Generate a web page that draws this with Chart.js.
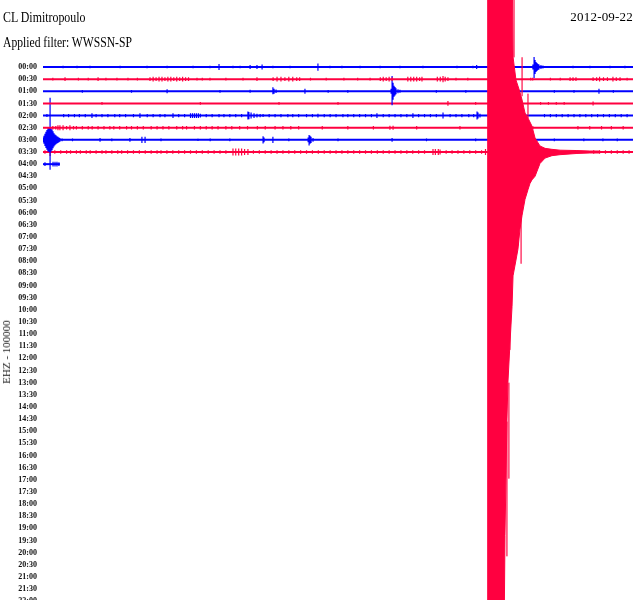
<!DOCTYPE html>
<html>
<head>
<title>CL Dimitropoulo helicorder 2012-09-22</title>
<script src="https://cdn.jsdelivr.net/npm/chart.js"></script>
<style>
    body { margin: 0; background: #fff; }
    #wrap { position: relative; width: 640px; height: 600px; overflow: hidden; }
    .txt { position: absolute; font-family: "Liberation Serif", serif; color: #000; white-space: nowrap; font-size: 14px; line-height: 14px; }
    #station { left: 3px; top: 11px; transform: scaleX(0.85); transform-origin: 0 0; }
    #filter { left: 3px; top: 36px; transform: scaleX(0.83); transform-origin: 0 0; }
    #date { right: 7px; top: 10px; font-size: 13px; letter-spacing: 0.2px; }
    #chan { left: 6px; top: 352px; font-size: 11px; color: #222; transform: translate(-50%, -50%) rotate(-90deg); }
</style>
</head>
<body>
<div id="wrap">
    <canvas id="heli"></canvas>
    <div class="txt" id="station">CL Dimitropoulo</div>
    <div class="txt" id="filter">Applied filter: WWSSN-SP</div>
    <div class="txt" id="date">2012-09-22</div>
    <div class="txt" id="chan">EHZ - 100000</div>
</div>

<script>
// one row = 30 minutes, x in minutes inside the row, amplitudes in row heights
var rowLabels = ['00:00','00:30','01:00','01:30','02:00','02:30','03:00','03:30','04:00','04:30',
    '05:00','05:30','06:00','06:30','07:00','07:30','08:00','08:30','09:00','09:30',
    '10:00','10:30','11:00','11:30','12:00','12:30','13:00','13:30','14:00','14:30',
    '15:00','15:30','16:00','16:30','17:00','17:30','18:00','18:30','19:00','19:30',
    '20:00','20:30','21:00','21:30','22:00'];
var rowEnd = [30, 30, 30, 30, 30, 30, 30, 30, 0.86];

// [minute, up, down]
var events0 = [[8.95,0.25,0.25],[10.53,0.16,0.16],[10.88,0.16,0.16],[11.14,0.2,0.2],[13.98,0.3,0.3],[22.05,0.16,0.16],
    [24.91,0.2,0.2],[24.97,0.82,0.91],[25.02,0.58,0.58],[25.07,0.41,0.41],[25.12,0.33,0.33],[25.17,0.25,0.25],
    [25.22,0.2,0.2],[25.32,0.16,0.16],[25.42,0.12,0.12]];
var events1 = [[1.12,0.16,0.16],[2.8,0.16,0.16],[3.76,0.12,0.12],[4.32,0.12,0.12],[5.44,0.16,0.16],[5.6,0.2,0.2],
    [5.75,0.16,0.16],[5.9,0.2,0.2],[6.05,0.2,0.2],[6.2,0.16,0.16],[6.35,0.2,0.2],[6.5,0.2,0.2],[6.65,0.16,0.16],
    [6.8,0.2,0.2],[6.95,0.16,0.16],[7.1,0.2,0.2],[7.25,0.16,0.16],[7.4,0.16,0.16],[10.88,0.16,0.16],[11.7,0.16,0.16],
    [11.9,0.2,0.2],[12.1,0.2,0.2],[12.3,0.16,0.16],[12.5,0.2,0.2],[12.7,0.2,0.2],[12.9,0.16,0.16],[13.05,0.16,0.16],
    [16.63,0.12,0.12],[17.15,0.16,0.16],[17.3,0.2,0.2],[17.45,0.16,0.16],[17.6,0.2,0.2],[17.75,0.16,0.16],
    [18.55,0.2,0.2],[18.7,0.2,0.2],[18.85,0.2,0.2],[19.0,0.2,0.2],[19.15,0.16,0.16],[19.27,0.2,0.2],
    [20.05,0.2,0.2],[20.2,0.2,0.2],[20.34,0.25,0.25],[20.45,0.2,0.2],[20.59,0.16,0.16],[24.8,0.12,0.12],
    [24.9,0.12,0.12],[26.8,0.16,0.16],[26.95,0.16,0.16],[27.1,0.16,0.16],[27.97,0.16,0.16],[28.15,0.16,0.16],
    [28.3,0.2,0.2],[28.5,0.16,0.16],[28.7,0.16,0.16],[28.98,0.2,0.2],[29.15,0.16,0.16],[29.34,0.16,0.16]];
var events2 = [[6.31,0.16,0.16],[10.53,0.12,0.12],[11.69,0.33,0.25],[11.75,0.2,0.2],[11.85,0.14,0.14],[13.32,0.2,0.2],
    [17.7,0.2,0.2],[17.75,1.26,1.15],[17.8,0.7,0.7],[17.85,0.45,0.45],[17.9,0.35,0.35],[17.95,0.25,0.25],
    [18.05,0.16,0.16],[18.15,0.12,0.12],[28.27,0.2,0.2]];
var events3 = [[20.59,0.2,0.2],[27.97,0.16,0.16]];
var events4 = [[0.2,0.12,0.12],[2.49,0.2,0.2],[4.93,0.2,0.2],[6.61,0.2,0.2],[7.5,0.2,0.2],[7.6,0.2,0.2],[7.7,0.2,0.2],
    [7.8,0.2,0.2],[7.9,0.2,0.2],[8.0,0.16,0.16],[10.42,0.33,0.33],[10.47,0.3,0.3],[10.58,0.25,0.25],[10.73,0.2,0.2],
    [10.88,0.16,0.16],[11.04,0.14,0.14],[11.19,0.12,0.12],[13.98,0.16,0.16],[16.98,0.2,0.2],[18.81,0.2,0.2],
    [20.34,0.25,0.25],[22.07,0.33,0.33],[22.12,0.25,0.25],[22.22,0.16,0.16]];
var events5 = [[0.76,0.2,0.2],[0.86,0.2,0.2],[1.02,0.2,0.2],[1.37,0.2,0.2],[17.64,0.16,0.16],[17.8,0.16,0.16],[24.91,0.12,0.12]];
var events6 = [[0.0,0.2,0.2],[0.05,0.33,0.33],[0.1,0.5,0.5],[0.15,0.66,0.66],[0.2,0.82,0.82],[0.25,0.95,0.95],
    [0.31,1.0,1.0],[0.36,3.46,2.47],[0.41,0.95,0.95],[0.46,0.85,0.85],[0.51,0.7,0.7],[0.56,0.55,0.55],[0.61,0.45,0.45],
    [0.66,0.37,0.37],[0.71,0.3,0.3],[0.76,0.25,0.25],[0.81,0.2,0.2],[0.86,0.16,0.16],[0.97,0.12,0.12],
    [2.9,0.16,0.16],[4.42,0.16,0.16],[5.03,0.25,0.25],[5.19,0.25,0.25],[7.88,0.1,0.1],[11.19,0.29,0.29],
    [11.24,0.2,0.2],[11.69,0.25,0.25],[13.48,0.2,0.2],[13.53,0.41,0.47],[13.58,0.33,0.33],[13.63,0.25,0.25],
    [13.73,0.16,0.16],[17.75,0.16,0.16],[28.47,0.12,0.12]];
var events7 = [[0.36,0.33,0.33],[9.66,0.29,0.29],[9.8,0.29,0.29],[9.95,0.29,0.29],[10.1,0.29,0.29],[10.25,0.25,0.25],
    [10.42,0.25,0.25],[19.83,0.25,0.25],[19.95,0.25,0.25],[20.1,0.25,0.25],[20.19,0.2,0.2],[22.5,0.25,0.25]];
var events8 = [[0.1,0.16,0.16],[0.51,0.2,0.2],[0.61,0.2,0.2],[0.71,0.2,0.2],[0.81,0.16,0.16]];

// background noise speckle positions (minutes)
var noise0 = [1.02,1.73,2.39,3.92,5.29,6.31,7.63,8.49,9.66,10.02,11.69,12.56,14.59,15.2,16.12,17.14,18.15,19.32,21.05,21.86,26.95,27.81,28.83,29.59];
var noise1 = [0.5,1.8,2.3,3.2,4.8,7.83,8.1,8.49,9.3,10.17,13.6,14.4,15.3,16.0,21.0,21.6,25.8,26.3,29.7];
var noise2 = [2.0,4.5,9.0,14.5,15.5,20.0,21.5,26.0,27.0,29.0];
var noise3 = [3.0,8.0,12.0,15.0,22.0,25.3,25.7,26.1,26.5];
var noise4 = [1.05,1.3,1.6,1.85,2.15,2.7,3.0,3.3,3.65,3.9,4.2,4.6,5.3,5.6,5.95,6.2,6.9,7.2,8.3,8.6,8.95,9.2,9.5,9.8,10.1,
    11.5,11.8,12.1,12.45,12.7,13.0,13.4,13.7,14.3,14.6,14.9,15.25,15.5,15.8,16.1,16.4,16.7,17.3,17.6,17.9,18.2,18.5,
    19.1,19.4,19.7,20.0,20.7,21.0,21.3,21.65,21.9,25.5,25.8,26.1,26.4,26.7,27.0,27.3,27.6,27.9,28.2,28.5,28.8,29.1,29.4,29.7];
var noise5 = [0.5,0.65,1.2,1.55,1.7,2.0,2.3,2.5,2.8,3.1,3.4,3.6,3.9,4.25,4.5,4.8,5.1,5.5,5.8,6.1,6.4,6.8,7.1,7.3,7.7,
    8.0,8.3,8.6,8.9,9.3,9.6,10.0,10.4,10.9,11.3,11.8,12.2,12.6,13.0,14.2,15.5,16.8,19.0,21.2,27.2,27.8,28.4,28.9,29.5];
var noise6 = [1.5,3.5,6.0,8.5,9.5,12.5,15.0,19.5,22.0,26.0,27.5,29.2];
var noise7 = [0.1,0.6,0.9,1.2,1.4,1.7,1.9,2.2,2.4,2.7,3.0,3.2,3.5,3.8,4.0,4.3,4.6,4.9,5.2,5.5,5.8,6.0,6.3,6.6,6.9,7.2,
    7.5,7.8,8.1,8.4,8.7,9.0,9.3,10.7,11.0,11.3,11.6,11.9,12.2,12.5,12.8,13.1,13.4,13.7,14.0,14.3,14.6,14.9,15.2,15.5,
    15.8,16.1,16.4,16.7,17.0,17.3,17.6,17.9,18.2,18.5,18.8,19.1,19.4,20.5,20.8,21.1,21.4,21.7,22.0,22.3,
    28.0,28.3,28.6,28.9,29.2,29.5,29.8];
var noise8 = [];
var noiseAmp = [0.11, 0.11, 0.11, 0.11, 0.14, 0.14, 0.11, 0.14, 0.14];

// the big quake on the 03:30 row, envelope in row heights (clipped by the frame)
var quakeRow = 7;
var quakeMin = [22.58,23.44,23.49,23.59,23.64,23.74,23.85,23.9,24.05,24.15,24.25,24.36,24.51,24.66,24.76,24.86,25.02,25.27,25.53,25.88,26.29,27.15,27.81,28.3];
var quakeTop = [17,17,17,17,17,17,17,7.83,5.93,5.44,4.94,4.28,3.21,2.8,2.47,2.14,1.15,0.5,0.3,0.22,0.15,0.12,0.08,0.08];
var quakeBottom = [41,41,31.6,22.2,19.0,15.9,12.7,10.2,8.9,8.0,6.4,5.2,3.9,3.1,2.6,2.3,2.0,0.95,0.5,0.3,0.22,0.12,0.08,0.08];
// thin streaks outside the solid envelope [minute, from, to] (up positive)
var quakeStreaks = [[24.31,-2.6,-9.2],[24.15,-2.6,-7.7],[23.74,-12.7,-16.3],[23.69,-19.0,-26.9],[23.59,-22.2,-33.3],
    [23.95,17,7.8],[24.36,7.8,4.6],[24.66,4.8,2.8]];

var events = [events0, events1, events2, events3, events4, events5, events6, events7, events8];
var noise = [noise0, noise1, noise2, noise3, noise4, noise5, noise6, noise7, noise8];
var blue = '#0000ff';
var red = '#ff0040';

function tickData(r) {
    var ticks = events[r].map(function(e) { return {m: e[0], up: e[1], dn: e[2]}; })
        .concat(noise[r].map(function(m) { return {m: m, up: noiseAmp[r], dn: noiseAmp[r]}; }))
        .filter(function(t) { return t.m <= rowEnd[r]; })
        .sort(function(a, b) { return a.m - b.m; });
    var pts = [];
    ticks.forEach(function(t) {
        pts.push({x: t.m, y: r - t.up}, {x: t.m, y: r + t.dn}, {x: t.m, y: null});
    });
    return pts;
}

var datasets = [];
datasets.push({
    data: quakeMin.map(function(m, i) { return {x: m, y: quakeRow - quakeTop[i]}; }),
    borderColor: red, borderWidth: 1, order: 0
});
datasets.push({
    data: quakeMin.map(function(m, i) { return {x: m, y: quakeRow + quakeBottom[i]}; }),
    borderColor: red, borderWidth: 1, backgroundColor: red, fill: '-1', order: 0
});
var streakPts = [];
quakeStreaks.forEach(function(s) {
    streakPts.push({x: s[0], y: quakeRow - s[1]}, {x: s[0], y: quakeRow - s[2]}, {x: s[0], y: null});
});
datasets.push({ data: streakPts, borderColor: 'rgba(255,0,64,0.5)', borderWidth: 1, order: 0 });

for (var r = 0; r < events.length; r++) {
    var col = r % 2 === 0 ? blue : red;
    datasets.push({ data: [{x: 0, y: r}, {x: rowEnd[r], y: r}], borderColor: col, borderWidth: 2, order: 1 });
    datasets.push({ data: tickData(r), borderColor: col, borderWidth: 1.2, order: 1 });
}

new Chart(document.getElementById('heli'), {
    type: 'line',
    data: { datasets: datasets },
    options: {
        responsive: true,
        maintainAspectRatio: false,
        animation: false,
        parsing: false,
        spanGaps: false,
        devicePixelRatio: 1,
        layout: { padding: { left: 0, right: 7, top: 0, bottom: 0 } },
        elements: { point: { radius: 0 }, line: { tension: 0, fill: false } },
        plugins: { legend: { display: false }, tooltip: { enabled: false } },
        scales: {
            x: { type: 'linear', min: 0, max: 30, display: false },
            y: {
                type: 'linear',
                reverse: true,
                min: -5.52,
                max: 43.9,
                grid: { display: false, drawTicks: false },
                border: { display: false },
                afterFit: function(scale) {
                    scale.width = 43;
                    scale.paddingTop = 0;
                    scale.paddingBottom = 0;
                },
                afterBuildTicks: function(scale) {
                    scale.ticks = rowLabels.map(function(l, i) { return {value: i}; });
                },
                ticks: {
                    autoSkip: false,
                    padding: 6,
                    color: '#111',
                    font: { family: '"Liberation Serif", serif', size: 8, weight: 'bold' },
                    callback: function(v) { return rowLabels[v]; }
                }
            }
        }
    }
});
</script>
</body>
</html>
